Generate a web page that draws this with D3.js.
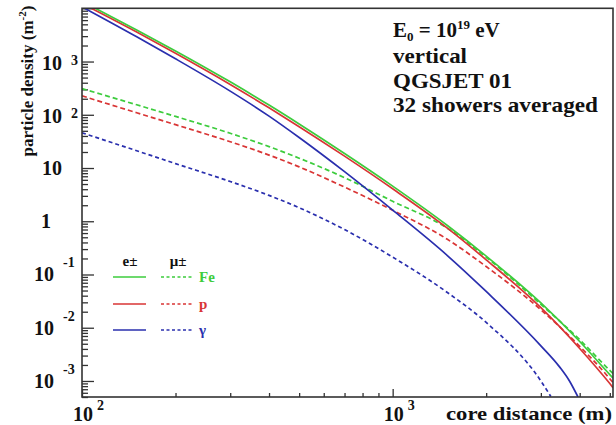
<!DOCTYPE html>
<html><head><meta charset="utf-8">
<script src="https://cdn.jsdelivr.net/npm/d3@7"></script>
<style>
html,body{margin:0;padding:0;background:#fff;}
text{font-family:"Liberation Serif","Times New Roman","DejaVu Serif",serif;font-weight:bold;fill:#111;}
</style></head>
<body><svg id="c" width="616" height="425"></svg>
<script>
// ---- data ----
const distMain = [100,150,200,300,400,500,700,1000,1500,2000,3000,4000,5000,5120];
const feElectron = [13520,3926,1585,416,152,67.1,18.7,4.57,0.834,0.222,0.0292,0.00551,0.00132,0.00114];
const pElectron  = [12330,3581,1429,371,135,59.8,16.7,4.07,0.743,0.189,0.0238,0.00408,0.000893,0.00075];
const feMuon     = [310,154,93.1,44.9,25.2,15.3,6.59,2.37,0.741,0.211,0.0275,0.00596,0.00158,0.00138];
const pMuon      = [227,109,65.2,31.2,17.5,10.5,4.38,1.61,0.458,0.141,0.0218,0.00447,0.0011,0.00093];
const distGammaE = [100,150,200,300,400,500,700,1000,1500,2000,3000,3450,3700,3950];
const gammaElectron = [10640,2911,1125,278,94.4,37.4,8.53,1.62,0.227,0.048,0.00457,0.00182,0.00102,0.0005];
const distGammaM = [100,150,200,300,400,500,700,1000,1500,2000,3000,3230];
const gammaMuon  = [45.9,21.1,12.1,5.58,3.06,1.80,0.697,0.212,0.0459,0.01256,0.001,0.00051];

const yMajor = [1e-3,1e-2,1e-1,1,10,100,1000];
const yLabels = [{b:"10",e:"-3"},{b:"10",e:"-2"},{b:"10",e:"-1"},{b:"1",e:""},{b:"10",e:""},{b:"10",e:"2"},{b:"10",e:"3"}];
const xMajor = [100,1000];
const xLabels = [{b:"10",e:"2"},{b:"10",e:"3"}];
const infoLines = ["vertical","QGSJET 01","32 showers averaged"];
const legendNames = ["Fe","p","\u03b3"];
const colors = ["#3dcc3d","#d93535","#2a2fae"];

// ---- scales ----
const svg = d3.select("#c");
const L=82,R=613,T=8.3,B=397;
const x = d3.scaleLog().domain([100,5120]).range([L,R]);
const y = d3.scaleLog().domain([5e-4,1e4]).range([B,T]);

svg.append("rect").attr("width",616).attr("height",425).attr("fill","#fff");
svg.append("clipPath").attr("id","clip").append("rect").attr("x",L).attr("y",T).attr("width",R-L).attr("height",B-T);

// minor ticks
const yMinor=[];
for(let e=-4;e<4;e++) for(let m=2;m<=9;m++){const v=m*Math.pow(10,e); if(v>=5e-4&&v<=1e4) yMinor.push(v);}
const xMinor=[];
for(let e=2;e<4;e++) for(let m=2;m<=9;m++){const v=m*Math.pow(10,e); if(v<=5120) xMinor.push(v);}

function styleAxis(g){g.select(".domain").remove();g.selectAll("line").attr("stroke","#333").attr("stroke-width",1.3);g.selectAll("text").remove();}
svg.append("g").attr("transform",`translate(${L},0)`).call(d3.axisLeft(y).tickValues(yMinor).tickSize(-6)).call(styleAxis);
svg.append("g").attr("transform",`translate(${L},0)`).call(d3.axisLeft(y).tickValues(yMajor.concat([1e4])).tickSize(-12)).call(styleAxis);
svg.append("g").attr("transform",`translate(0,${B})`).call(d3.axisBottom(x).tickValues(xMinor).tickSize(-4)).call(styleAxis);
svg.append("g").attr("transform",`translate(0,${B})`).call(d3.axisBottom(x).tickValues(xMajor).tickSize(-8)).call(styleAxis);

// curves
const line = d3.line().x(d=>x(d[0])).y(d=>y(d[1])).curve(d3.curveMonotoneX);
const series = [
  {d:distMain,v:feMuon,c:0,dash:"5,3"},
  {d:distMain,v:pMuon,c:1,dash:"5,3"},
  {d:distGammaM,v:gammaMuon,c:2,dash:"4,3"},
  {d:distGammaE,v:gammaElectron,c:2,dash:null},
  {d:distMain,v:pElectron,c:1,dash:null},
  {d:distMain,v:feElectron,c:0,dash:null}
];
const cg = svg.append("g").attr("clip-path","url(#clip)");
series.forEach(s=>{
  cg.append("path").datum(s.d.map((d,i)=>[d,s.v[i]]))
    .attr("d",line).attr("fill","none").attr("stroke",colors[s.c])
    .attr("stroke-width",1.7).attr("stroke-dasharray",s.dash);
});

// frame
svg.append("rect").attr("x",L).attr("y",T).attr("width",R-L).attr("height",B-T)
  .attr("fill","none").attr("stroke","#333").attr("stroke-width",1.6);

// y tick labels
yMajor.forEach((v,i)=>{
  const lab=yLabels[i], ty=y(v);
  if(lab.e===""){
    svg.append("text").attr("x",lab.b==="1"?51:62).attr("y",ty+7).attr("text-anchor","end")
      .attr("font-size",20).text(lab.b);
  } else if(lab.e.startsWith("-")){
    svg.append("text").attr("x",54).attr("y",ty+7).attr("text-anchor","end").attr("font-size",20).text(lab.b);
    svg.append("text").attr("x",63).attr("y",ty-7).attr("font-size",14).text(lab.e);
  } else {
    svg.append("text").attr("x",62).attr("y",ty+8).attr("text-anchor","end").attr("font-size",20).text(lab.b);
    svg.append("text").attr("x",71).attr("y",ty+3).attr("font-size",14).text(lab.e);
  }
});
// x tick labels
xMajor.forEach((v,i)=>{
  const tx=x(v);
  svg.append("text").attr("x",tx+11).attr("y",421).attr("text-anchor","end").attr("font-size",20).text(xLabels[i].b);
  svg.append("text").attr("x",tx+15).attr("y",410).attr("font-size",14).text(xLabels[i].e);
});

// axis titles
svg.append("text").attr("x",446).attr("y",420).attr("font-size",19)
  .attr("textLength",166).attr("lengthAdjust","spacingAndGlyphs").text("core distance (m)");
const yt = svg.append("text").attr("transform","translate(33,81) rotate(-90)").attr("text-anchor","middle").attr("font-size",17);
yt.append("tspan").text("particle density (m");
yt.append("tspan").attr("font-size",11).attr("dy",-7).text("-2");
yt.append("tspan").attr("dy",7).text(")");

// info box text
const e0 = svg.append("text").attr("x",393).attr("y",37).attr("font-size",21);
e0.append("tspan").text("E");
e0.append("tspan").attr("font-size",13).attr("dy",4).text("0");
e0.append("tspan").attr("dy",-4).text(" = 10");
e0.append("tspan").attr("font-size",13).attr("dy",-8).text("19");
e0.append("tspan").attr("dy",8).text(" eV");
const infoW=[74,119,205];
infoLines.forEach((t,i)=>{
  svg.append("text").attr("x",393).attr("y",63+i*24.5).attr("font-size",21)
    .attr("textLength",infoW[i]).attr("lengthAdjust","spacingAndGlyphs").text(t);
});

// legend
svg.append("text").attr("x",130).attr("y",266).attr("text-anchor","middle").attr("font-size",15).text("e\u00b1");
svg.append("text").attr("x",178).attr("y",266).attr("text-anchor","middle").attr("font-size",15).text("\u03bc\u00b1");
const legY=[277,304,330];
legendNames.forEach((n,i)=>{
  svg.append("line").attr("x1",113).attr("x2",146).attr("y1",legY[i]).attr("y2",legY[i]).attr("stroke",colors[i]).attr("stroke-width",1.7);
  svg.append("line").attr("x1",161).attr("x2",193).attr("y1",legY[i]).attr("y2",legY[i]).attr("stroke",colors[i]).attr("stroke-width",1.5).attr("stroke-dasharray","3,2.5");
  svg.append("text").attr("x",199).attr("y",legY[i]+5).attr("font-size",15).style("fill",colors[i]).text(n);
});
</script></body></html>
